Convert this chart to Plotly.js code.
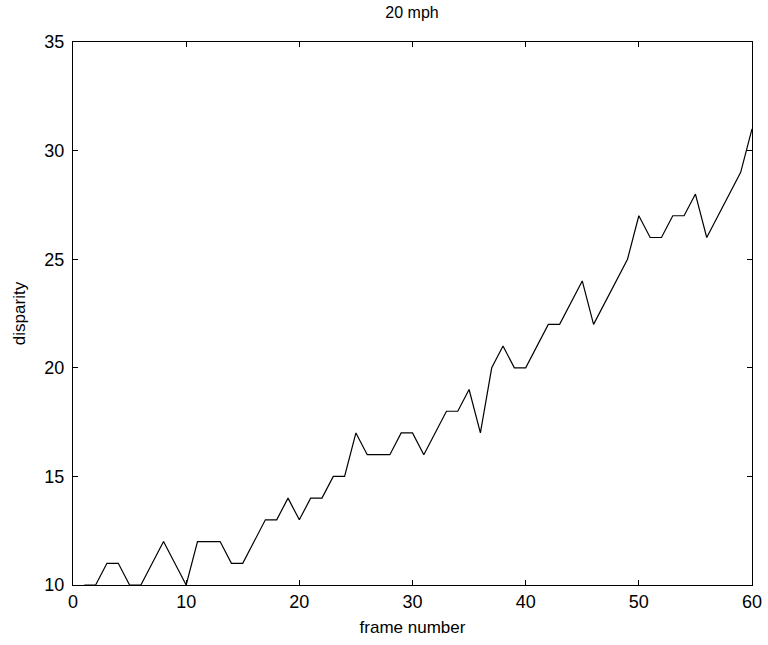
<!DOCTYPE html>
<html>
<head>
<meta charset="utf-8">
<script src="https://cdn.plot.ly/plotly-3.0.1.min.js"></script>
<style>html,body{margin:0;padding:0;background:#fff;}#chart{width:768px;height:645px;}</style>
</head>
<body>
<div id="chart"></div>
<script>
var frames = [1,2,3,4,5,6,7,8,9,10,11,12,13,14,15,16,17,18,19,20,21,22,23,24,25,26,27,28,29,30,31,32,33,34,35,36,37,38,39,40,41,42,43,44,45,46,47,48,49,50,51,52,53,54,55,56,57,58,59,60];
var disparity = [10,10,11,11,10,10,11,12,11,10,12,12,12,11,11,12,13,13,14,13,14,14,15,15,17,16,16,16,17,17,16,17,18,18,19,17,20,21,20,20,21,22,22,23,24,22,23,24,25,27,26,26,27,27,28,26,27,28,29,31];
var xTicks = [0,10,20,30,40,50,60];
var yTicks = [10,15,20,25,30,35];

var FONT = 'Liberation Sans Narrow, Liberation Sans, Arial, sans-serif';
var trace = {
  x: frames, y: disparity, type: 'scatter', mode: 'lines',
  line: {color: '#000', width: 1.2}, hoverinfo: 'none'
};
var axisCommon = {
  showgrid: false, zeroline: false, showline: true, mirror: 'ticks',
  linecolor: '#000', linewidth: 1.2, ticks: 'inside', ticklen: 5,
  tickcolor: '#000', tickwidth: 1,
  tickfont: {family: FONT, size: 18, color: '#000'}
};
var layout = {
  width: 768, height: 645,
  margin: {l: 73, r: 16, t: 42, b: 60},
  paper_bgcolor: '#fff', plot_bgcolor: '#fff',
  showlegend: false,
  title: {text: '20 mph', x: 0.5365, xanchor: 'center', y: 0.99, yanchor: 'top',
          font: {family: FONT, size: 16, color: '#000'}},
  xaxis: Object.assign({}, axisCommon, {
    range: [0, 60], tickvals: xTicks, ticktext: xTicks.map(String),
    title: {text: 'frame number', standoff: 10,
            font: {family: FONT, size: 17, color: '#000'}}
  }),
  yaxis: Object.assign({}, axisCommon, {
    range: [10, 35], tickvals: yTicks, ticktext: yTicks.map(String),
    ticklabelstandoff: 4,
    title: {text: 'disparity', standoff: 14,
            font: {family: FONT, size: 17, color: '#000'}}
  })
};
Plotly.newPlot('chart', [trace], layout, {displayModeBar: false, staticPlot: true});
</script>
</body>
</html>
